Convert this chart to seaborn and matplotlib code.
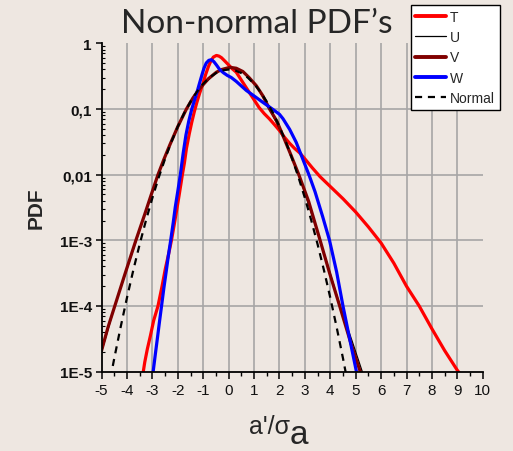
import matplotlib
matplotlib.use("Agg")
import matplotlib.pyplot as plt
import seaborn as sns
import pandas as pd

# --- data: PDF of normalised fluctuations a'/sigma_a ---
T_x = [-3.40, -3.30, -3.20, -3.08, -2.95, -2.78, -2.62, -2.49, -2.35, -2.25, -2.15, -2.05,
       -1.95, -1.82, -1.74, -1.66, -1.55, -1.45, -1.35, -1.25, -1.14, -1.00, -0.90, -0.80,
       -0.70, -0.60, -0.48, -0.38, -0.28, -0.15, 0.00, 0.15, 0.30, 0.45, 0.60, 0.75, 0.95,
       1.20, 1.40, 1.60, 1.80, 2.00, 2.20, 2.40, 2.60, 2.80, 3.00, 3.30, 3.60, 4.00, 4.50,
       5.00, 5.50, 6.00, 6.50, 7.00, 7.50, 8.00, 8.50, 9.00, 9.25]
T_pdf = [7.9e-6, 1.4e-5, 2.2e-5, 3.5e-5, 6.0e-5, 1.0e-4, 2.0e-4, 3.7e-4, 6.5e-4, 1.0e-3,
         1.66e-3, 2.8e-3, 4.8e-3, 0.010, 0.0151, 0.0251, 0.0417, 0.063, 0.091, 0.126, 0.174,
         0.251, 0.339, 0.437, 0.537, 0.617, 0.653, 0.638, 0.603, 0.537, 0.468, 0.407, 0.363,
         0.295, 0.240, 0.195, 0.148, 0.105, 0.085, 0.071, 0.058, 0.047, 0.037, 0.030, 0.025,
         0.0214, 0.0174, 0.0126, 0.0093, 0.0066, 0.0043, 0.0027, 0.0016, 9.1e-4, 4.5e-4,
         2.0e-4, 1.0e-4, 4.5e-5, 2.1e-5, 1.05e-5, 7.9e-6]

U_x = [-5.00, -4.48, -3.65, -3.30, -2.78, -2.32, -1.66, -1.14, -0.48, 0.05, 0.56, 1.09,
       1.61, 2.14, 2.77, 3.60, 4.37, 4.85, 5.26, 5.30]
U_pdf = [2.0e-5, 1.0e-4, 9.5e-4, 2.5e-3, 0.0098, 0.028, 0.10, 0.204, 0.363, 0.431, 0.372,
         0.226, 0.10, 0.039, 0.0098, 1.0e-3, 1.05e-4, 3.0e-5, 1.0e-5, 7.9e-6]

V_x = [-5.00, -4.75, -4.48, -4.10, -3.65, -3.30, -3.05, -2.78, -2.55, -2.32, -2.00,
       -1.66, -1.40, -1.14, -0.80, -0.48, -0.28, 0.05, 0.30, 0.56, 0.80, 1.09, 1.35, 1.61,
       1.90, 2.14, 2.45, 2.77, 3.15, 3.60, 3.97, 4.37, 4.80, 5.18, 5.25]
V_pdf = [2.1e-5, 4.7e-5, 1.0e-4, 2.9e-4, 1.0e-3, 2.5e-3, 4.9e-3, 0.010, 0.017,
         0.028, 0.054, 0.10, 0.148, 0.204, 0.288, 0.363, 0.398, 0.431, 0.417, 0.372, 0.302,
         0.226, 0.158, 0.10, 0.065, 0.039, 0.020, 0.0098, 0.0039, 1.0e-3, 3.2e-4, 1.0e-4,
         2.8e-5, 1.0e-5, 7.9e-6]

W_x = [-3.00, -2.97, -2.88, -2.80, -2.72, -2.64, -2.55, -2.45, -2.37, -2.28, -2.18, -2.10,
       -2.00, -1.90, -1.79, -1.68, -1.57, -1.45, -1.33, -1.22, -1.14, -1.05, -0.97, -0.88,
       -0.78, -0.68, -0.58, -0.48, -0.35, -0.20, -0.05, 0.10, 0.30, 0.50, 0.70, 1.00, 1.35,
       1.75, 2.00, 2.14, 2.40, 2.66, 2.90, 3.18, 3.40, 3.70, 3.97, 4.25, 4.50, 4.80, 5.03,
       5.08]
W_pdf = [7.9e-6, 1.0e-5, 1.9e-5, 3.3e-5, 5.8e-5, 1.0e-4, 1.86e-4, 3.5e-4, 5.9e-4, 1.0e-3,
         1.86e-3, 3.2e-3, 5.6e-3, 0.010, 0.021, 0.040, 0.065, 0.10, 0.141, 0.195, 0.251,
         0.331, 0.417, 0.501, 0.550, 0.562, 0.525, 0.468, 0.398, 0.355, 0.324, 0.302, 0.263,
         0.224, 0.191, 0.158, 0.126, 0.098, 0.083, 0.071, 0.049, 0.031, 0.018, 0.0095, 0.0055,
         0.0023, 1.0e-3, 3.3e-4, 1.0e-4, 2.7e-5, 1.0e-5, 7.9e-6]

N_x = [-4.75, -4.50, -4.25, -4.00, -3.75, -3.50, -3.25, -3.00, -2.75, -2.50, -2.25, -2.00,
       -1.75, -1.50, -1.25, -1.00, -0.75, -0.50, -0.25, 0.00, 0.25, 0.50, 0.75, 1.00, 1.25,
       1.50, 1.75, 2.00, 2.25, 2.50, 2.75, 3.00, 3.25, 3.50, 3.75, 4.00, 4.25, 4.50, 4.75]
N_pdf = [5.03e-6, 1.60e-5, 4.77e-5, 1.34e-4, 3.53e-4, 8.73e-4, 2.03e-3, 4.43e-3, 9.09e-3,
         0.0175, 0.0317, 0.0540, 0.0863, 0.1295, 0.1826, 0.2420, 0.3011, 0.3521, 0.3867,
         0.3989, 0.3867, 0.3521, 0.3011, 0.2420, 0.1826, 0.1295, 0.0863, 0.0540, 0.0317,
         0.0175, 9.09e-3, 4.43e-3, 2.03e-3, 8.73e-4, 3.53e-4, 1.34e-4, 4.77e-5, 1.60e-5, 5.03e-6]

x_ticks = list(range(-5, 11))
y_ticks = [1e-5, 1e-4, 1e-3, 1e-2, 1e-1, 1]
y_tick_labels = ["1E-5", "1E-4", "1E-3", "0,01", "0,1", "1"]

BG = "#EEE7E1"
sns.set_theme(style="ticks", rc={"figure.facecolor": BG, "axes.facecolor": BG,
                                 "savefig.facecolor": BG})
plt.rcParams["font.family"] = ["Liberation Sans", "DejaVu Sans"]

fig = plt.figure(figsize=(5.13, 4.52), dpi=100)
ax = fig.add_axes([0.198, 0.1755, 0.743, 0.7265])

series = [
    ("T", T_x, T_pdf, dict(color="#FF0000", lw=2.3)),
    ("U", U_x, U_pdf, dict(color="#000000", lw=0.9)),
    ("V", V_x, V_pdf, dict(color="#800000", lw=2.3)),
    ("W", W_x, W_pdf, dict(color="#0000FF", lw=2.3)),
    ("Normal", N_x, N_pdf, dict(color="#000000", lw=1.6, dashes=(3.2, 2.6))),
]
for name, xs, ys, style in series:
    df = pd.DataFrame({"x": xs, "pdf": ys})
    dashes = style.pop("dashes", None)
    line_ax = sns.lineplot(data=df, x="x", y="pdf", ax=ax, sort=False,
                           estimator=None, label=name, **style)
    if dashes is not None:
        line_ax.lines[-1].set_dashes(dashes)

ax.set_yscale("log")
ax.set_xlim(-5, 10)
ax.set_ylim(1e-5, 1)
ax.set_xticks(x_ticks)
ax.set_xticklabels([str(t) for t in x_ticks], fontsize=11)
ax.set_xticks([t + 0.5 for t in x_ticks[:-1]], minor=True)
ax.set_yticks(y_ticks)
ax.set_yticklabels(y_tick_labels, fontsize=11, fontweight="bold")

ax.tick_params(axis="x", which="major", direction="out", length=5, width=1.1,
               color="black", pad=3, labelcolor="#111111")
ax.tick_params(axis="x", which="minor", direction="out", length=3, width=1.0, color="black")
ax.tick_params(axis="y", which="major", direction="out", length=4, width=1.1,
               color="black", pad=3, labelcolor="#111111")
ax.tick_params(axis="y", which="minor", direction="in", length=2.5, width=0.8, color="black")

ax.grid(True, which="major", color="#A6A6A6", lw=1.2)
for gl, loc in zip(ax.xaxis.get_gridlines(), ax.get_xticks()):
    if loc in (-5, 10):
        gl.set_visible(False)
for gl, loc in zip(ax.yaxis.get_gridlines(), ax.get_yticks()):
    if loc >= 1 or loc <= 1e-5:
        gl.set_visible(False)
ax.set_axisbelow(True)

for side in ("top", "right"):
    ax.spines[side].set_visible(False)
for side in ("left", "bottom"):
    ax.spines[side].set_color("black")
    ax.spines[side].set_linewidth(1.3)

ax.set_xlabel("")
ax.set_ylabel("PDF", fontsize=15, fontweight="bold", labelpad=10)

leg = ax.legend(loc="upper right", bbox_to_anchor=(500 / 513, 1 - 6 / 452),
                bbox_transform=fig.transFigure, fontsize=10, frameon=True,
                fancybox=False, edgecolor="black", facecolor="white", framealpha=1,
                handlelength=2.2, handletextpad=0.3, labelspacing=0.45,
                borderpad=0.35, borderaxespad=0)
leg.get_frame().set_linewidth(1.0)
for h in leg.get_lines():
    if h.get_linewidth() > 2:
        h.set_linewidth(2.8)

fig.text(0.5, 1 - 24 / 452, "Non-normal PDF\u2019s", ha="center", va="center",
         fontsize=24, family=["Lato", "DejaVu Sans"])
fig.text(290 / 513, 1 - 434 / 452, "a'/\u03c3", ha="right", va="baseline", fontsize=18)
fig.text(290 / 513, 1 - 444 / 452, "a", ha="left", va="baseline", fontsize=24)

fig.savefig("out.png", dpi=100)
